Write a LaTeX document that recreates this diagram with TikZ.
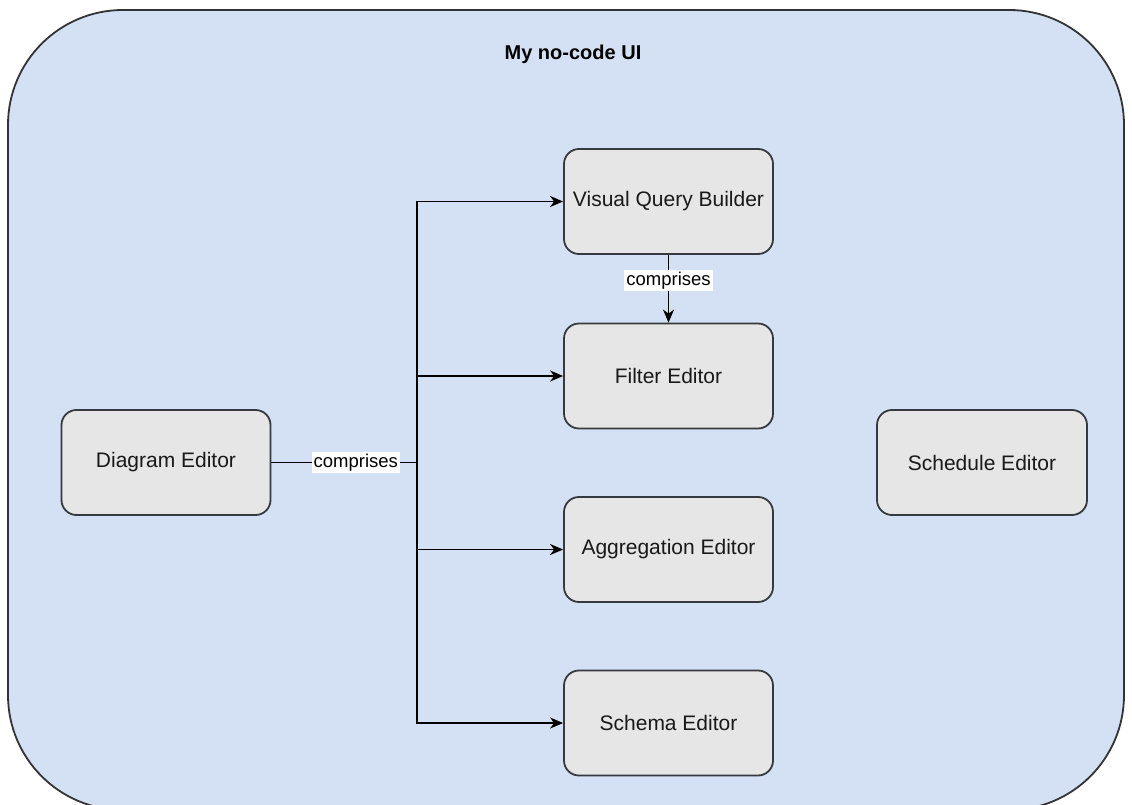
\documentclass[tikz,border=0pt]{standalone}
\usepackage{fontspec}
\setmainfont{Liberation Sans}
\usetikzlibrary{arrows.meta}
\definecolor{panelfill}{HTML}{D4E1F5}
\definecolor{boxfill}{HTML}{E6E6E6}
\definecolor{boxline}{HTML}{36393D}
\tikzset{
  editor/.style={draw=boxline, fill=boxfill, line width=1.8pt, rounded corners=15pt,
    minimum width=209pt, minimum height=105pt, inner sep=0pt,
    font=\fontsize{21}{25}\selectfont, text=black!90},
  link/.style={draw=black, line width=1.9pt},
  arrowlink/.style={link, -{Stealth[length=13pt,width=11pt,inset=4pt]}},
  edgelabel/.style={fill=white, inner xsep=2pt, inner ysep=2pt,
    font=\fontsize{18.5}{22}\selectfont, text=black}
}
\begin{document}
\begin{tikzpicture}[x=1pt, y=-1pt]
  \useasboundingbox (0,0) rectangle (1132,805);
  \clip (0,0) rectangle (1132,805);

  % outer container
  \draw[draw=black!80, fill=panelfill, line width=1.8pt, rounded corners=115pt]
    (8,10) rectangle (1124,810);
  \node[font=\fontsize{20}{24}\selectfont\bfseries] (title) at (573,54) {My no-code UI};

  % editors
  \node[editor] (diag) at (166,462.5) {Diagram Editor};
  \node[editor] (vqb)  at (668.5,201.5) {Visual Query Builder};
  \node[editor] (filt) at (668.5,376) {Filter Editor};
  \node[editor] (aggr) at (668.5,549.5) {Aggregation Editor};
  \node[editor] (schm) at (668.5,723) {Schema Editor};
  \node[editor, minimum width=210pt] (sched) at (982,462.5) {Schedule Editor};

  % connectors
  \coordinate (trunk) at (417,462.5);
  \draw[link] (diag.east) -- node[edgelabel, pos=0.58] {comprises} (trunk);
  \draw[arrowlink] (trunk) |- (vqb.west);
  \draw[arrowlink] (trunk) |- (filt.west);
  \draw[arrowlink] (trunk) |- (aggr.west);
  \draw[arrowlink] (trunk) |- (schm.west);
  \draw[arrowlink] (vqb.south) -- node[edgelabel, pos=0.38] {comprises} (filt.north);
\end{tikzpicture}
\end{document}
